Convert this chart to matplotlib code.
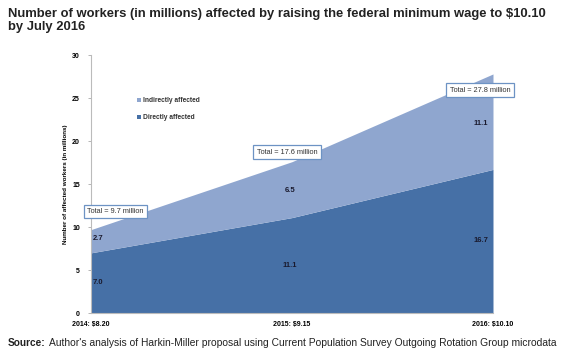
import numpy as np
import matplotlib.pyplot as plt

# data
years = ["2014: $8.20", "2015: $9.15", "2016: $10.10"]
direct = [7.0, 11.1, 16.7]
indirect = [2.7, 6.5, 11.1]
totals = [9.7, 17.6, 27.8]

dark_blue = "#4670a6"
light_blue = "#8fa6cf"

plt.rcParams['font.family'] = ['Liberation Sans', 'DejaVu Sans']

fig = plt.figure(figsize=(5.7, 3.59), dpi=100)
ax = fig.add_axes([0.1596, 0.128, 0.7053, 0.7187])

x = np.arange(len(years))
direct = np.array(direct)
indirect = np.array(indirect)

ax.fill_between(x, 0, direct, color=dark_blue, lw=0, label="Directly affected")
ax.fill_between(x, direct, direct + indirect, color=light_blue, lw=0,
                label="Indirectly affected")

ax.set_xlim(0, 2)
ax.set_ylim(0, 30)
ax.set_yticks(np.arange(0, 31, 5))
ax.set_yticklabels([str(v) for v in range(0, 31, 5)], fontsize=5, fontweight='bold')
ax.set_xticks(x)
ax.set_xticklabels(years, fontsize=5, fontweight='bold')
ax.tick_params(axis='x', length=0, pad=6)
ax.tick_params(axis='y', length=2, width=0.6, color='#aaaaaa', pad=6)
for s in ['top', 'right']:
    ax.spines[s].set_visible(False)
for s in ['left', 'bottom']:
    ax.spines[s].set_color('#bbbbbb')
    ax.spines[s].set_linewidth(0.8)

ax.set_ylabel("Number of affected workers (in millions)", fontsize=4.5,
              fontweight='bold', labelpad=3)

# segment value labels (positions within each band)
lbl_x = [0.035, 0.99, 1.94]
direct_y = [3.5, 5.5, 8.4]
indirect_y = [8.7, 14.3, 22.0]
for i in range(3):
    ax.text(lbl_x[i], direct_y[i], f"{direct[i]:.1f}", fontsize=5.5, fontweight='bold',
            ha='center', va='center', color='#1a1a2e')
    ax.text(lbl_x[i], indirect_y[i], f"{indirect[i]:.1f}", fontsize=5.5, fontweight='bold',
            ha='center', va='center', color='#1a1a2e')

# total boxes
box = dict(boxstyle='square,pad=0.45', fc='white', ec='#6d93c4', lw=0.9)
box_pos = [(0.12, 11.8), (0.975, 18.7), (1.935, 25.9)]
for (bx, by), t in zip(box_pos, totals):
    ax.text(bx, by, f"Total = {t} million", fontsize=5.3, ha='center', va='center',
            color='#333333', bbox=box)

# legend
handles, labels = ax.get_legend_handles_labels()
leg = ax.legend(handles[::-1], labels[::-1], loc='upper left', bbox_to_anchor=(0.1, 0.86),
                frameon=False, fontsize=4.8, handlelength=0.6, handleheight=0.6,
                handletextpad=0.3, labelspacing=1.55)
for t in leg.get_texts():
    t.set_fontweight('bold')
    t.set_color('#333333')

fig.text(0.014, 0.978, "Number of workers (in millions) affected by raising the federal minimum wage to $10.10\nby July 2016",
         fontsize=9.4, fontweight='bold', va='top', ha='left', color='#222222', linespacing=1.1)
fig.text(0.014, 0.045, "Source:", fontsize=7.3, fontweight='bold', va='center', ha='left', color='#222222')
fig.text(0.086, 0.045, "Author's analysis of Harkin-Miller proposal using Current Population Survey Outgoing Rotation Group microdata",
         fontsize=7.4, va='center', ha='left', color='#222222')

fig.savefig("out.png", dpi=100)
